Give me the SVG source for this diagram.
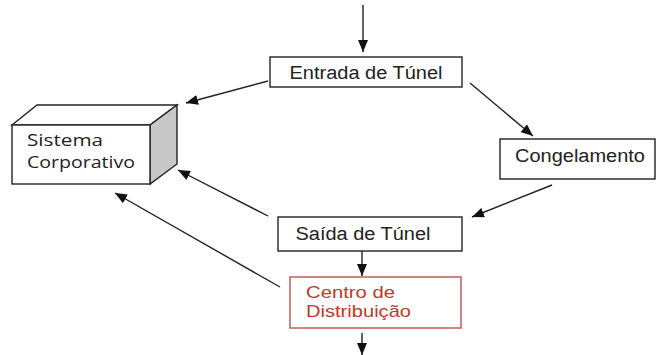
<svg xmlns="http://www.w3.org/2000/svg" width="657" height="355" viewBox="0 0 657 355">
<defs>
<style>
.box{fill:#fff;stroke:#222;stroke-width:1.4}
.red{fill:#fff;stroke:#c0504d;stroke-width:1.4}
.t{font-family:"Liberation Sans",Arial,sans-serif;font-size:18px;fill:#222}
.tr{font-family:"Liberation Sans",Arial,sans-serif;font-size:17px;fill:#c0392b}
.ts{font-family:"Open Sans","Liberation Sans",sans-serif;font-size:16px;fill:#222}
.c{fill:none;stroke:#222;stroke-width:1.4;marker-end:url(#ah)}
</style>
<marker id="ah" viewBox="0 0 12 10" refX="12" refY="5" markerWidth="12" markerHeight="10" markerUnits="userSpaceOnUse" orient="auto">
<path d="M0,0 L12,5 L0,10 Z" fill="#111"/>
</marker>
</defs>
<g id="connectors">
<line class="c" x1="363" y1="5" x2="363" y2="52"/>
<line class="c" x1="470" y1="83" x2="533" y2="136"/>
<line class="c" x1="552" y1="185" x2="472" y2="217"/>
<line class="c" x1="268" y1="81" x2="186" y2="103"/>
<line class="c" x1="268" y1="216" x2="178" y2="170"/>
<line class="c" x1="280" y1="287" x2="115" y2="193"/>
<line class="c" x1="362" y1="251" x2="362" y2="276"/>
<line class="c" x1="362" y1="333" x2="362" y2="355"/>
</g>
<g id="sistema">
<polygon points="12,125 37,105 177,105 150,125" class="box"/>
<polygon points="150,125 177,105 177,164 150,184" fill="#c8c8c8" stroke="#222" stroke-width="1.4"/>
<rect x="12" y="125" width="138" height="59" class="box"/>
<text class="ts" x="27" y="146" textLength="76" lengthAdjust="spacingAndGlyphs">Sistema</text>
<text class="ts" x="27" y="168" textLength="108" lengthAdjust="spacingAndGlyphs">Corporativo</text>
</g>
<g id="entrada">
<rect x="270" y="57" width="192" height="30" class="box"/>
<text class="t" x="366" y="78.5" text-anchor="middle" textLength="153" lengthAdjust="spacingAndGlyphs">Entrada de Túnel</text>
</g>
<g id="congelamento">
<rect x="500" y="139" width="155" height="40" class="box"/>
<text class="t" x="580" y="161.5" text-anchor="middle" textLength="130" lengthAdjust="spacingAndGlyphs">Congelamento</text>
</g>
<g id="saida">
<rect x="278" y="217" width="184" height="34" class="box"/>
<text class="t" x="363" y="239.5" text-anchor="middle" textLength="135" lengthAdjust="spacingAndGlyphs">Saída de Túnel</text>
</g>
<g id="centro">
<rect x="290" y="277" width="171" height="51" class="red"/>
<text class="tr" x="306" y="298" textLength="89" lengthAdjust="spacingAndGlyphs">Centro de</text>
<text class="tr" x="306" y="317" textLength="105" lengthAdjust="spacingAndGlyphs">Distribuição</text>
</g>
</svg>
